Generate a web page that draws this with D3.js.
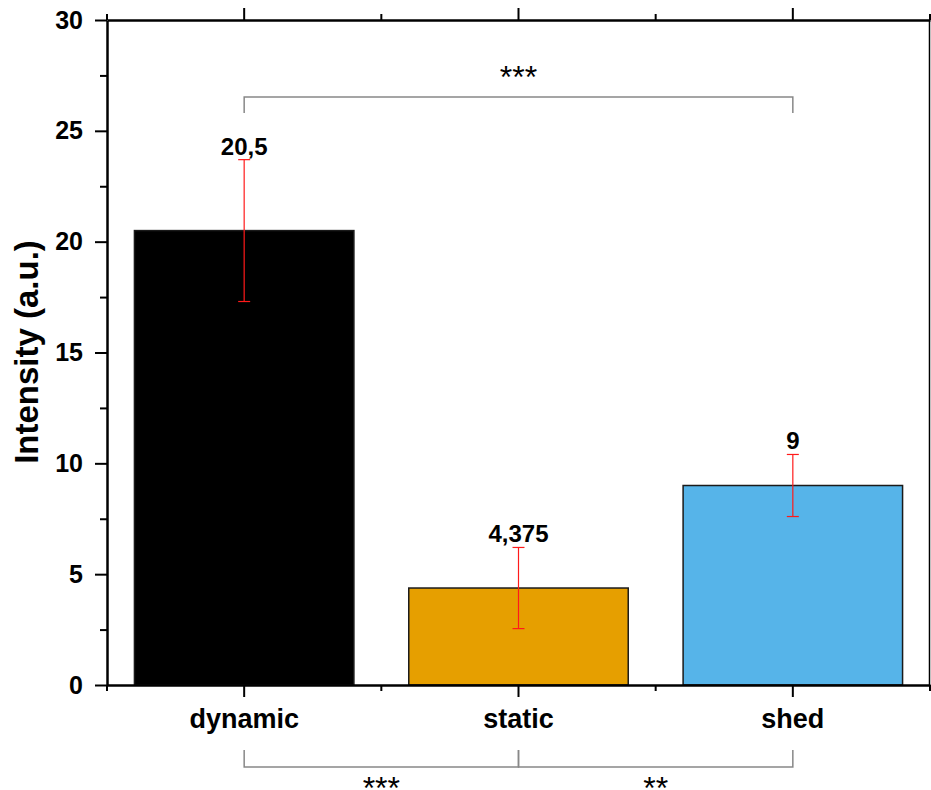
<!DOCTYPE html>
<html>
<head>
<meta charset="utf-8">
<script src="https://cdn.jsdelivr.net/npm/d3@7"></script>
<style>
  html, body { margin: 0; padding: 0; background: #fff; }
  svg { display: block; }
  text { font-family: "Liberation Sans", Arial, sans-serif; }
</style>
</head>
<body>
<svg id="chart" width="931" height="790"></svg>
<script>
// ---- data ----
const categories = ["dynamic", "static", "shed"];
const values = [20.5, 4.375, 9];
const errors = [3.2, 1.83, 1.4];
const valueLabels = ["20,5", "4,375", "9"];
const barColors = ["#000000", "#E69F00", "#56B4E9"];
const yTicks = [0, 5, 10, 15, 20, 25, 30];
const yMinorTicks = [2.5, 7.5, 12.5, 17.5, 22.5, 27.5];
const brackets = [
  { from: "dynamic", to: "shed", label: "***", side: "top" },
  { from: "dynamic", to: "static", label: "***", side: "bottom" },
  { from: "static", to: "shed", label: "**", side: "bottom" }
];

// ---- layout ----
const pL = 107, pR = 930, pT = 20, pB = 685;
const svg = d3.select("#chart");

const x = d3.scaleBand().domain(categories).range([pL, pR]).padding(0);
const y = d3.scaleLinear().domain([0, 30]).range([pB, pT]);
const barW = x.bandwidth() * 0.8;
const boundaries = [pL].concat(categories.map(c => x(c) + x.bandwidth()));

// bars
svg.append("g").selectAll("rect").data(categories).join("rect")
  .attr("x", (c) => x(c) + (x.bandwidth() - barW) / 2)
  .attr("y", (c, i) => y(values[i]))
  .attr("width", barW)
  .attr("height", (c, i) => y(0) - y(values[i]))
  .attr("fill", (c, i) => barColors[i])
  .attr("stroke", "#1a1a1a")
  .attr("stroke-width", 1.5);

// error bars
const eg = svg.append("g").attr("stroke", "#ff1a1a").attr("stroke-width", 1.2);
categories.forEach((c, i) => {
  const cx = x(c) + x.bandwidth() / 2;
  const hi = y(values[i] + errors[i]), lo = y(values[i] - errors[i]);
  eg.append("line").attr("x1", cx).attr("x2", cx).attr("y1", hi).attr("y2", lo);
  eg.append("line").attr("x1", cx - 6).attr("x2", cx + 6).attr("y1", hi).attr("y2", hi);
  eg.append("line").attr("x1", cx - 6).attr("x2", cx + 6).attr("y1", lo).attr("y2", lo);
  svg.append("text")
    .attr("x", cx).attr("y", hi - 5)
    .attr("text-anchor", "middle")
    .attr("font-size", 24).attr("font-weight", "bold")
    .text(valueLabels[i]);
});

// left axis
const yAxis = svg.append("g").attr("transform", `translate(${pL},0)`)
  .call(d3.axisLeft(y).tickValues(yTicks).tickSize(12).tickPadding(12).tickSizeOuter(0));
yAxis.select(".domain").attr("stroke-width", 2.5);
yAxis.selectAll(".tick line").attr("stroke-width", 2);
yAxis.selectAll(".tick text").attr("font-size", 25).attr("font-weight", "bold")
  .attr("fill", "#000").style("font-family", "'Liberation Sans', Arial, sans-serif");
const yMinor = svg.append("g").attr("transform", `translate(${pL},0)`)
  .call(d3.axisLeft(y).tickValues(yMinorTicks).tickSize(7).tickFormat("").tickSizeOuter(0));
yMinor.select(".domain").remove();
yMinor.selectAll(".tick line").attr("stroke-width", 2);

// bottom axis
const xAxis = svg.append("g").attr("transform", `translate(0,${pB})`)
  .call(d3.axisBottom(x).tickSize(12).tickPadding(12).tickSizeOuter(0));
xAxis.select(".domain").attr("stroke-width", 2.5);
xAxis.selectAll(".tick line").attr("stroke-width", 2);
xAxis.selectAll(".tick text").attr("font-size", 27).attr("font-weight", "bold")
  .attr("fill", "#000").style("font-family", "'Liberation Sans', Arial, sans-serif");
const xb = svg.append("g").attr("stroke", "#000").attr("stroke-width", 2);
boundaries.forEach(b => {
  xb.append("line").attr("x1", b).attr("x2", b).attr("y1", pB).attr("y2", pB + 6);
});

// top axis
const xTop = svg.append("g").attr("transform", `translate(0,${pT})`)
  .call(d3.axisTop(x).tickSize(12).tickFormat("").tickSizeOuter(0));
xTop.select(".domain").attr("stroke-width", 2.5);
xTop.selectAll(".tick line").attr("stroke-width", 2);
boundaries.forEach(b => {
  xb.append("line").attr("x1", b).attr("x2", b).attr("y1", pT).attr("y2", pT - 6);
});

// right axis
svg.append("line").attr("x1", pR - 0.5).attr("x2", pR - 0.5)
  .attr("y1", pT).attr("y2", pB).attr("stroke", "#000").attr("stroke-width", 1.5);

// y title
svg.append("text")
  .attr("transform", `translate(38,352) rotate(-90)`)
  .attr("text-anchor", "middle")
  .attr("font-size", 33).attr("font-weight", "bold")
  .text("Intensity (a.u.)");

// significance brackets
const bg = svg.append("g").attr("stroke", "#888").attr("stroke-width", 1.5).attr("fill", "none");
brackets.forEach(b => {
  const x1 = x(b.from) + x.bandwidth() / 2;
  const x2 = x(b.to) + x.bandwidth() / 2;
  let yl, ye, ty;
  if (b.side === "top") { yl = 97; ye = 113; ty = 88; }
  else { yl = 767; ye = 750; ty = 799; }
  bg.append("path").attr("d", `M${x1},${ye}V${yl}H${x2}V${ye}`);
  svg.append("text")
    .attr("x", (x1 + x2) / 2).attr("y", ty)
    .attr("text-anchor", "middle")
    .attr("font-size", 32)
    .text(b.label);
});
</script>
</body>
</html>
